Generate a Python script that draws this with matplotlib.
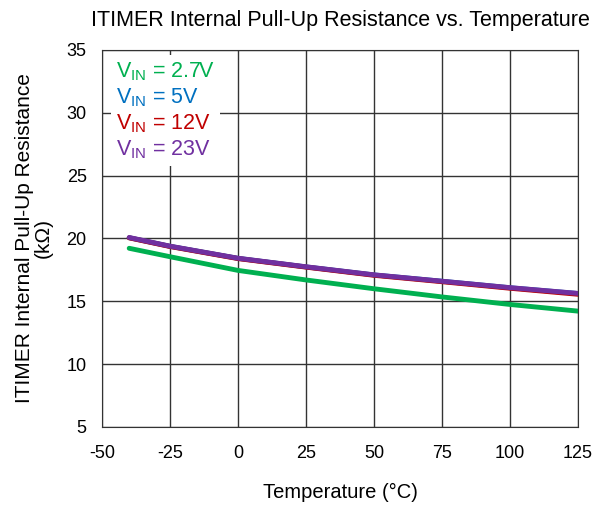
import matplotlib.pyplot as plt

plt.rcParams['font.family'] = ['Liberation Sans', 'DejaVu Sans']
plt.rcParams['mathtext.fontset'] = 'custom'
plt.rcParams['mathtext.rm'] = 'Liberation Sans'
plt.rcParams['axes.unicode_minus'] = False

temps = [-40, -25, 0, 25, 50, 75, 100, 125]
r_2v7 = [19.22, 18.55, 17.46, 16.7, 16.0, 15.35, 14.75, 14.22]
r_5v = [20.06, 19.38, 18.42, 17.74, 17.1, 16.6, 16.08, 15.62]
r_12v = [20.05, 19.36, 18.4, 17.72, 17.07, 16.56, 16.04, 15.56]
r_23v = [20.08, 19.39, 18.43, 17.75, 17.11, 16.6, 16.09, 15.63]

labels = ['2.7V', '5V', '12V', '23V']
colors = ['#00b050', '#0070c0', '#c00000', '#7030a0']
series = [r_2v7, r_5v, r_12v, r_23v]

fig = plt.figure(figsize=(6.05, 5.07), dpi=100)
ax = fig.add_axes([0.1686, 0.1578, 0.7868, 0.7436])

for vals, lab, c in zip(series, labels, colors):
    ax.plot(temps, vals, color=c, lw=3.5, solid_capstyle='round',
            label='V$_{\\mathregular{IN}}$ = ' + lab)

ax.set_xlim(-50, 125)
ax.set_ylim(5, 35)
ax.set_xticks(range(-50, 126, 25))
ax.set_yticks(range(5, 36, 5))
ax.grid(True, color='#333333', lw=1)
ax.tick_params(length=0, labelsize=13)
ax.tick_params(axis='x', pad=13)
ax.tick_params(axis='y', pad=11)
for s in ax.spines.values():
    s.set_color('#333333')

ax.set_title('ITIMER Internal Pull-Up Resistance vs. Temperature', fontsize=15.5, pad=17)
ax.set_xlabel('Temperature (°C)', fontsize=14.5, labelpad=15)
ax.set_ylabel('ITIMER Internal Pull-Up Resistance\n(kΩ)', fontsize=15, labelpad=10,
              linespacing=1.0)

# colored text-only legend in the top-left corner
leg = ax.legend(loc='upper left', handlelength=0, handletextpad=0, fontsize=15.5,
                frameon=True, framealpha=1, edgecolor='none', borderpad=0.25,
                labelspacing=0.15, bbox_to_anchor=(-0.004, 1.014))
for txt, c in zip(leg.get_texts(), colors):
    txt.set_color(c)
for h in leg.legend_handles:
    h.set_visible(False)

fig.savefig('out.png', dpi=100)
